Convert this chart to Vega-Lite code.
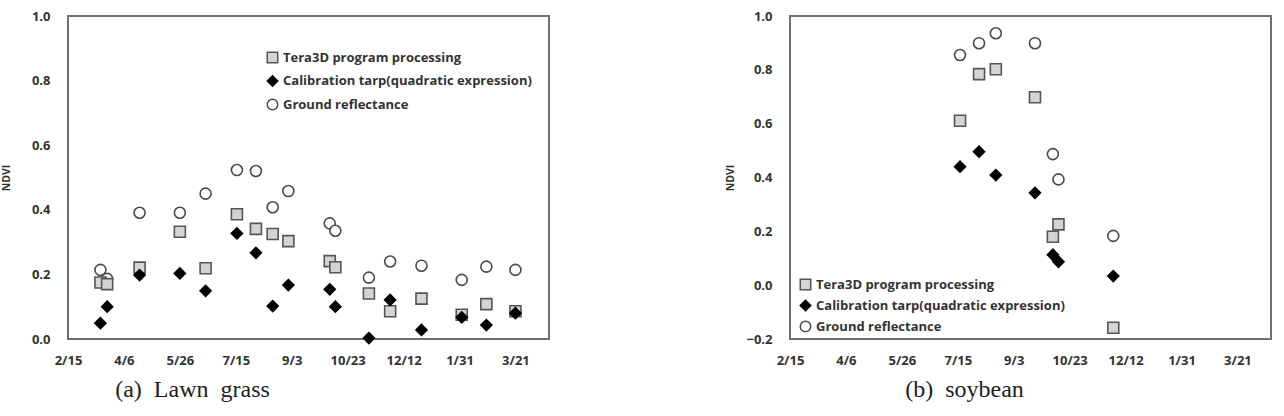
{
  "$schema": "https://vega.github.io/schema/vega-lite/v6.json",
  "padding": {"left": 0, "top": 9, "right": 0, "bottom": 0},
  "spacing": 174,
  "datasets": {
    "lawn": [
      {"date": "2015-03-16", "series": "Ground reflectance", "ndvi": 0.214},
      {"date": "2015-03-22", "series": "Ground reflectance", "ndvi": 0.186},
      {"date": "2015-04-20", "series": "Ground reflectance", "ndvi": 0.391},
      {"date": "2015-05-26", "series": "Ground reflectance", "ndvi": 0.391},
      {"date": "2015-06-18", "series": "Ground reflectance", "ndvi": 0.45},
      {"date": "2015-07-16", "series": "Ground reflectance", "ndvi": 0.523},
      {"date": "2015-08-02", "series": "Ground reflectance", "ndvi": 0.52},
      {"date": "2015-08-17", "series": "Ground reflectance", "ndvi": 0.408},
      {"date": "2015-08-31", "series": "Ground reflectance", "ndvi": 0.458},
      {"date": "2015-10-07", "series": "Ground reflectance", "ndvi": 0.358},
      {"date": "2015-10-12", "series": "Ground reflectance", "ndvi": 0.335},
      {"date": "2015-11-11", "series": "Ground reflectance", "ndvi": 0.19},
      {"date": "2015-11-30", "series": "Ground reflectance", "ndvi": 0.24},
      {"date": "2015-12-28", "series": "Ground reflectance", "ndvi": 0.227},
      {"date": "2016-02-02", "series": "Ground reflectance", "ndvi": 0.183},
      {"date": "2016-02-24", "series": "Ground reflectance", "ndvi": 0.224},
      {"date": "2016-03-21", "series": "Ground reflectance", "ndvi": 0.214},
      {"date": "2015-03-16", "series": "Tera3D program processing", "ndvi": 0.175},
      {"date": "2015-03-22", "series": "Tera3D program processing", "ndvi": 0.17},
      {"date": "2015-04-20", "series": "Tera3D program processing", "ndvi": 0.221},
      {"date": "2015-05-26", "series": "Tera3D program processing", "ndvi": 0.332},
      {"date": "2015-06-18", "series": "Tera3D program processing", "ndvi": 0.219},
      {"date": "2015-07-16", "series": "Tera3D program processing", "ndvi": 0.386},
      {"date": "2015-08-02", "series": "Tera3D program processing", "ndvi": 0.341},
      {"date": "2015-08-17", "series": "Tera3D program processing", "ndvi": 0.325},
      {"date": "2015-08-31", "series": "Tera3D program processing", "ndvi": 0.303},
      {"date": "2015-10-07", "series": "Tera3D program processing", "ndvi": 0.241},
      {"date": "2015-10-12", "series": "Tera3D program processing", "ndvi": 0.222},
      {"date": "2015-11-11", "series": "Tera3D program processing", "ndvi": 0.141},
      {"date": "2015-11-30", "series": "Tera3D program processing", "ndvi": 0.086},
      {"date": "2015-12-28", "series": "Tera3D program processing", "ndvi": 0.125},
      {"date": "2016-02-02", "series": "Tera3D program processing", "ndvi": 0.075},
      {"date": "2016-02-24", "series": "Tera3D program processing", "ndvi": 0.108},
      {"date": "2016-03-21", "series": "Tera3D program processing", "ndvi": 0.086},
      {"date": "2015-03-16", "series": "Calibration tarp(quadratic expression)", "ndvi": 0.049},
      {"date": "2015-03-22", "series": "Calibration tarp(quadratic expression)", "ndvi": 0.1},
      {"date": "2015-04-20", "series": "Calibration tarp(quadratic expression)", "ndvi": 0.198},
      {"date": "2015-05-26", "series": "Calibration tarp(quadratic expression)", "ndvi": 0.203},
      {"date": "2015-06-18", "series": "Calibration tarp(quadratic expression)", "ndvi": 0.149},
      {"date": "2015-07-16", "series": "Calibration tarp(quadratic expression)", "ndvi": 0.327},
      {"date": "2015-08-02", "series": "Calibration tarp(quadratic expression)", "ndvi": 0.267},
      {"date": "2015-08-17", "series": "Calibration tarp(quadratic expression)", "ndvi": 0.102},
      {"date": "2015-08-31", "series": "Calibration tarp(quadratic expression)", "ndvi": 0.167},
      {"date": "2015-10-07", "series": "Calibration tarp(quadratic expression)", "ndvi": 0.154},
      {"date": "2015-10-12", "series": "Calibration tarp(quadratic expression)", "ndvi": 0.1},
      {"date": "2015-11-11", "series": "Calibration tarp(quadratic expression)", "ndvi": 0.003},
      {"date": "2015-11-30", "series": "Calibration tarp(quadratic expression)", "ndvi": 0.121},
      {"date": "2015-12-28", "series": "Calibration tarp(quadratic expression)", "ndvi": 0.028},
      {"date": "2016-02-02", "series": "Calibration tarp(quadratic expression)", "ndvi": 0.067},
      {"date": "2016-02-24", "series": "Calibration tarp(quadratic expression)", "ndvi": 0.043},
      {"date": "2016-03-21", "series": "Calibration tarp(quadratic expression)", "ndvi": 0.08}
    ],
    "soy": [
      {"date": "2015-07-17", "series": "Ground reflectance", "ndvi": 0.855},
      {"date": "2015-08-03", "series": "Ground reflectance", "ndvi": 0.899},
      {"date": "2015-08-18", "series": "Ground reflectance", "ndvi": 0.936},
      {"date": "2015-09-22", "series": "Ground reflectance", "ndvi": 0.899},
      {"date": "2015-10-08", "series": "Ground reflectance", "ndvi": 0.487},
      {"date": "2015-10-13", "series": "Ground reflectance", "ndvi": 0.393},
      {"date": "2015-12-01", "series": "Ground reflectance", "ndvi": 0.183},
      {"date": "2015-07-17", "series": "Tera3D program processing", "ndvi": 0.611},
      {"date": "2015-08-03", "series": "Tera3D program processing", "ndvi": 0.784},
      {"date": "2015-08-18", "series": "Tera3D program processing", "ndvi": 0.802},
      {"date": "2015-09-22", "series": "Tera3D program processing", "ndvi": 0.698},
      {"date": "2015-10-08", "series": "Tera3D program processing", "ndvi": 0.18},
      {"date": "2015-10-13", "series": "Tera3D program processing", "ndvi": 0.226},
      {"date": "2015-12-01", "series": "Tera3D program processing", "ndvi": -0.158},
      {"date": "2015-07-17", "series": "Calibration tarp(quadratic expression)", "ndvi": 0.44},
      {"date": "2015-08-03", "series": "Calibration tarp(quadratic expression)", "ndvi": 0.496},
      {"date": "2015-08-18", "series": "Calibration tarp(quadratic expression)", "ndvi": 0.409},
      {"date": "2015-09-22", "series": "Calibration tarp(quadratic expression)", "ndvi": 0.343},
      {"date": "2015-10-08", "series": "Calibration tarp(quadratic expression)", "ndvi": 0.113},
      {"date": "2015-10-13", "series": "Calibration tarp(quadratic expression)", "ndvi": 0.087},
      {"date": "2015-12-01", "series": "Calibration tarp(quadratic expression)", "ndvi": 0.034}
    ]
  },
  "hconcat": [
    {
      "width": 481,
      "height": 323,
      "data": {"name": "lawn"},
      "title": {"text": "(a)\u00a0\u00a0Lawn\u00a0\u00a0grass", "orient": "bottom", "anchor": "middle", "frame": "group", "dx": -116, "offset": 11},
      "mark": {"type": "point", "size": 121, "strokeWidth": 1.6, "opacity": 1},
      "encoding": {
        "x": {
          "field": "date", "type": "temporal",
          "scale": {"type": "utc", "domain": [{"year": 2015, "month": 2, "date": 15, "utc": true}, {"year": 2016, "month": 4, "date": 20, "utc": true}]},
          "axis": {
            "title": null, "labelExpr": "utcFormat(datum.value, '%-m/%-d')", "labelPadding": 15, "labelOverlap": false, "labelFlush": false,
            "values": [
              {"year": 2015, "month": 2, "date": 15, "utc": true},
              {"year": 2015, "month": 4, "date": 6, "utc": true},
              {"year": 2015, "month": 5, "date": 26, "utc": true},
              {"year": 2015, "month": 7, "date": 15, "utc": true},
              {"year": 2015, "month": 9, "date": 3, "utc": true},
              {"year": 2015, "month": 10, "date": 23, "utc": true},
              {"year": 2015, "month": 12, "date": 12, "utc": true},
              {"year": 2016, "month": 1, "date": 31, "utc": true},
              {"year": 2016, "month": 3, "date": 21, "utc": true}
            ]
          }
        },
        "y": {
          "field": "ndvi", "type": "quantitative",
          "scale": {"domain": [0, 1], "nice": false, "zero": false},
          "axis": {"title": "NDVI", "values": [0, 0.2, 0.4, 0.6, 0.8, 1.0], "format": ".1f", "labelPadding": 18, "titlePadding": 20}
        },
        "shape": {
          "field": "series", "type": "nominal",
          "scale": {"domain": ["Tera3D program processing", "Calibration tarp(quadratic expression)", "Ground reflectance"], "range": ["square", "diamond", "circle"]},
          "legend": {"orient": "none", "legendX": 198, "legendY": 35, "rowPadding": 6.5}
        },
        "fill": {
          "field": "series", "type": "nominal",
          "scale": {"domain": ["Tera3D program processing", "Calibration tarp(quadratic expression)", "Ground reflectance"], "range": ["#d4d4d4", "#000000", "#ffffff"]},
          "legend": {"orient": "none", "legendX": 198, "legendY": 35, "rowPadding": 6.5}
        },
        "stroke": {
          "field": "series", "type": "nominal",
          "scale": {"domain": ["Tera3D program processing", "Calibration tarp(quadratic expression)", "Ground reflectance"], "range": ["#555555", "#000000", "#4a4a4a"]},
          "legend": {"orient": "none", "legendX": 198, "legendY": 35, "rowPadding": 6.5}
        }
      }
    },
    {
      "width": 481,
      "height": 323,
      "data": {"name": "soy"},
      "title": {"text": "(b)\u00a0\u00a0soybean", "orient": "bottom", "anchor": "middle", "frame": "group", "dx": -66, "offset": 11},
      "mark": {"type": "point", "size": 121, "strokeWidth": 1.6, "opacity": 1},
      "encoding": {
        "x": {
          "field": "date", "type": "temporal",
          "scale": {"type": "utc", "domain": [{"year": 2015, "month": 2, "date": 15, "utc": true}, {"year": 2016, "month": 4, "date": 20, "utc": true}]},
          "axis": {
            "title": null, "labelExpr": "utcFormat(datum.value, '%-m/%-d')", "labelPadding": 15, "labelOverlap": false, "labelFlush": false,
            "values": [
              {"year": 2015, "month": 2, "date": 15, "utc": true},
              {"year": 2015, "month": 4, "date": 6, "utc": true},
              {"year": 2015, "month": 5, "date": 26, "utc": true},
              {"year": 2015, "month": 7, "date": 15, "utc": true},
              {"year": 2015, "month": 9, "date": 3, "utc": true},
              {"year": 2015, "month": 10, "date": 23, "utc": true},
              {"year": 2015, "month": 12, "date": 12, "utc": true},
              {"year": 2016, "month": 1, "date": 31, "utc": true},
              {"year": 2016, "month": 3, "date": 21, "utc": true}
            ]
          }
        },
        "y": {
          "field": "ndvi", "type": "quantitative",
          "scale": {"domain": [-0.2, 1], "nice": false, "zero": false},
          "axis": {"title": "NDVI", "values": [-0.2, 0, 0.2, 0.4, 0.6, 0.8, 1.0], "format": ".1f", "labelPadding": 18, "titlePadding": 10}
        },
        "shape": {
          "field": "series", "type": "nominal",
          "scale": {"domain": ["Tera3D program processing", "Calibration tarp(quadratic expression)", "Ground reflectance"], "range": ["square", "diamond", "circle"]},
          "legend": {"orient": "none", "legendX": 9, "legendY": 262, "rowPadding": 4}
        },
        "fill": {
          "field": "series", "type": "nominal",
          "scale": {"domain": ["Tera3D program processing", "Calibration tarp(quadratic expression)", "Ground reflectance"], "range": ["#d4d4d4", "#000000", "#ffffff"]},
          "legend": {"orient": "none", "legendX": 9, "legendY": 262, "rowPadding": 4}
        },
        "stroke": {
          "field": "series", "type": "nominal",
          "scale": {"domain": ["Tera3D program processing", "Calibration tarp(quadratic expression)", "Ground reflectance"], "range": ["#555555", "#000000", "#4a4a4a"]},
          "legend": {"orient": "none", "legendX": 9, "legendY": 262, "rowPadding": 4}
        }
      }
    }
  ],
  "resolve": {
    "scale": {"shape": "independent", "fill": "independent", "stroke": "independent", "x": "independent", "y": "independent"},
    "legend": {"shape": "independent", "fill": "independent", "stroke": "independent"}
  },
  "config": {
    "view": {"stroke": "#707070", "strokeWidth": 2},
    "axis": {
      "domain": false, "ticks": false, "grid": false,
      "labelFont": "Open Sans", "labelFontWeight": "bold", "labelFontSize": 13, "labelColor": "#333333",
      "titleFont": "Open Sans", "titleFontWeight": "bold", "titleFontSize": 10.5, "titleColor": "#333333"
    },
    "legend": {
      "title": null, "padding": 0, "labelFont": "Open Sans", "labelFontWeight": "bold", "labelFontSize": 13,
      "labelColor": "#333333", "labelOffset": 4, "symbolSize": 110, "symbolStrokeWidth": 1.5, "labelLimit": 400
    },
    "title": {"font": "Liberation Serif", "fontSize": 24, "fontWeight": "normal", "color": "#222222"}
  }
}
